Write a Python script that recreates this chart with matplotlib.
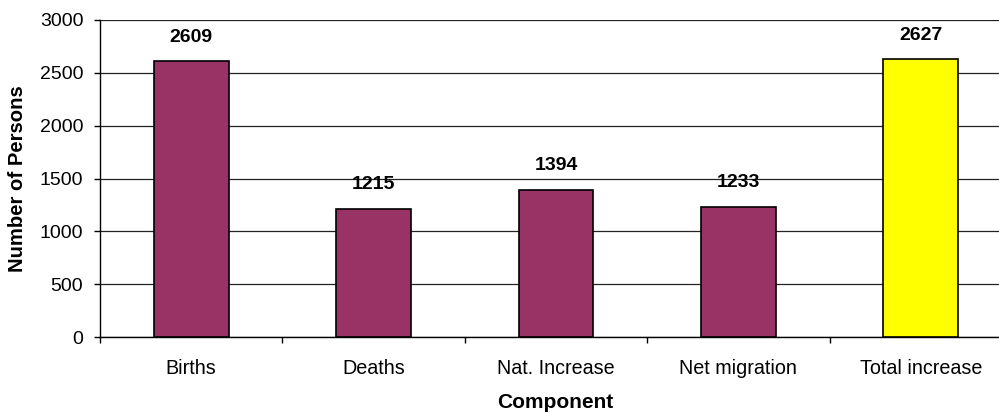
import matplotlib
matplotlib.use("Agg")
import matplotlib.pyplot as plt
from matplotlib.ticker import FixedLocator

plt.rcParams['font.family'] = ['Liberation Sans', 'DejaVu Sans']

categories = ["Births", "Deaths", "Nat. Increase", "Net migration", "Total increase"]
values = [2609, 1215, 1394, 1233, 2627]
bar_colors = ["#993366", "#993366", "#993366", "#993366", "#FFFF00"]
y_ticks = [0, 500, 1000, 1500, 2000, 2500, 3000]

W, H = 999, 413
fig = plt.figure(figsize=(W / 100, H / 100), dpi=100)
ax = fig.add_axes([100 / W, 76 / H, 912 / W, 317 / H])

x = list(range(len(categories)))
ax.bar(x, values, width=0.41, color=bar_colors, edgecolor="black", linewidth=1.2, zorder=3)

for xi, v in zip(x, values):
    ax.annotate(str(v), (xi, v), xytext=(0, 17.5), textcoords="offset points",
                ha="center", va="center", fontsize=14, fontweight="bold")

ax.set_xlim(-0.5, len(categories) - 0.5)
ax.set_ylim(0, 3000)
ax.set_yticks(y_ticks)
ax.yaxis.grid(True, color="#222222", linewidth=0.9, zorder=0)
ax.set_axisbelow(True)

ax.set_xticks(x)
ax.set_xticklabels(categories)
ax.xaxis.set_minor_locator(FixedLocator([i - 0.5 for i in range(len(categories) + 1)]))
ax.tick_params(axis="x", which="major", length=0, pad=16, labelsize=14.2)
ax.tick_params(axis="x", which="minor", length=4, width=1, direction="out")
ax.tick_params(axis="y", length=4, width=1, pad=8, labelsize=14)

for side in ("top", "right"):
    ax.spines[side].set_visible(False)
ax.spines["left"].set_linewidth(1)
ax.spines["bottom"].set_linewidth(1)

fig.text(18 / W, 1 - 178.5 / H, "Number of Persons", rotation=90, ha="center", va="center",
         fontsize=14.6, fontweight="bold")
fig.text(555 / W, 1 - 403 / H, "Component", ha="center", va="center",
         fontsize=15, fontweight="bold")

fig.savefig("out.png", dpi=100)
